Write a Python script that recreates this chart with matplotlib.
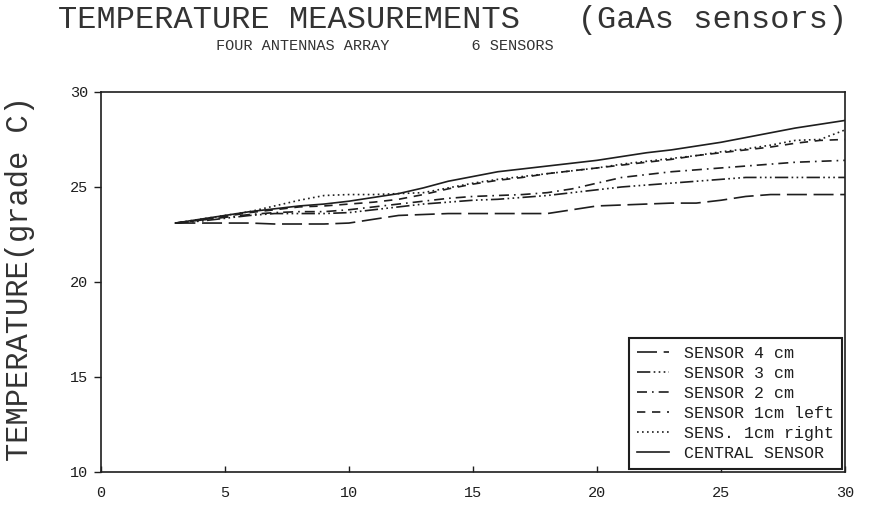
import matplotlib
matplotlib.use("Agg")
import matplotlib.pyplot as plt

# time axis (same for all six sensors)
x = [3, 4, 5, 6, 7, 8, 9, 10, 11, 12, 13, 14, 15, 16, 17, 18, 19, 20,
     21, 22, 23, 24, 25, 26, 27, 28, 29, 30]

# temperature readings (grade C)
sensor_4cm = [23.1, 23.1, 23.1, 23.1, 23.05, 23.05, 23.05, 23.1, 23.3, 23.5,
              23.55, 23.6, 23.6, 23.6, 23.6, 23.6, 23.8, 24.0, 24.05, 24.1,
              24.15, 24.15, 24.3, 24.5, 24.6, 24.6, 24.6, 24.6]
sensor_3cm = [23.1, 23.2, 23.35, 23.5, 23.6, 23.6, 23.6, 23.65, 23.8, 23.95,
              24.1, 24.2, 24.3, 24.35, 24.45, 24.55, 24.7, 24.85, 25.0, 25.1,
              25.2, 25.3, 25.4, 25.5, 25.5, 25.5, 25.5, 25.5]
sensor_2cm = [23.1, 23.25, 23.4, 23.55, 23.65, 23.7, 23.7, 23.8, 23.95, 24.1,
              24.25, 24.4, 24.5, 24.55, 24.6, 24.7, 24.9, 25.2, 25.5, 25.65,
              25.8, 25.9, 26.0, 26.1, 26.2, 26.3, 26.35, 26.4]
sensor_1cm_left = [23.1, 23.25, 23.45, 23.65, 23.8, 23.95, 24.0, 24.1, 24.2, 24.35,
                   24.6, 24.9, 25.15, 25.35, 25.5, 25.7, 25.85, 26.0, 26.15, 26.3,
                   26.45, 26.65, 26.8, 26.95, 27.1, 27.3, 27.45, 27.5]
sensor_1cm_right = [23.1, 23.3, 23.5, 23.7, 24.0, 24.3, 24.55, 24.6, 24.6, 24.65,
                    24.7, 24.95, 25.2, 25.4, 25.55, 25.7, 25.85, 26.0, 26.2, 26.35,
                    26.5, 26.65, 26.85, 27.0, 27.2, 27.45, 27.5, 28.0]
central = [23.1, 23.3, 23.5, 23.7, 23.85, 24.0, 24.1, 24.25, 24.45, 24.65,
           24.95, 25.3, 25.55, 25.8, 25.95, 26.1, 26.25, 26.4, 26.6, 26.8,
           26.95, 27.15, 27.35, 27.6, 27.85, 28.1, 28.3, 28.5]

labels = ["SENSOR 4 cm", "SENSOR 3 cm", "SENSOR 2 cm",
          "SENSOR 1cm left", "SENS. 1cm right", "CENTRAL SENSOR"]

ink = "#1e1e1e"
mono = ["Liberation Mono", "DejaVu Sans Mono"]
plt.rcParams["font.family"] = mono

fig = plt.figure(figsize=(8.75, 5.15), dpi=100)
ax = fig.add_axes([0.1154, 0.0835, 0.8503, 0.738])

styles = [(0, (12, 4)), (0, (8, 2, 1, 2, 1, 2, 1, 2)), (0, (6, 3, 1, 3)),
          (0, (5, 4)), (0, (1, 2)), "-"]
series = [sensor_4cm, sensor_3cm, sensor_2cm, sensor_1cm_left, sensor_1cm_right, central]
for y, lab, ls in zip(series, labels, styles):
    ax.plot(x, y, color=ink, lw=1.2, linestyle=ls, label=lab)

ax.set_xlim(0, 30)
ax.set_ylim(10, 30)
ax.set_xticks([0, 5, 10, 15, 20, 25, 30])
ax.set_yticks([10, 15, 20, 25, 30])
ax.tick_params(axis="x", direction="in", length=4, width=1, labelsize=11, pad=10, colors=ink)
ax.tick_params(axis="y", direction="out", length=5, width=1, labelsize=11, pad=4, colors=ink)
for s in ax.spines.values():
    s.set_linewidth(1.2)
    s.set_color(ink)

leg = ax.legend(loc="lower right", fontsize=12, handlelength=1.9, labelspacing=0.3,
                borderaxespad=0.15, fancybox=False, framealpha=1, edgecolor=ink,
                handletextpad=0.9, borderpad=0.5)
leg.get_frame().set_linewidth(1.5)
for t in leg.get_texts():
    t.set_color(ink)

fig.text(0.517, 0.99, "TEMPERATURE MEASUREMENTS   (GaAs sensors)", ha="center", va="top",
         fontsize=23, color="#333333")
fig.text(0.44, 0.91, "FOUR ANTENNAS ARRAY         6 SENSORS", ha="center", va="center",
         fontsize=11, color="#333333")
ax.set_ylabel("TEMPERATURE(grade C)", fontsize=22, color="#333333")
ax.yaxis.set_label_coords(-0.089, 0.51)

fig.savefig("out.png", dpi=100)
